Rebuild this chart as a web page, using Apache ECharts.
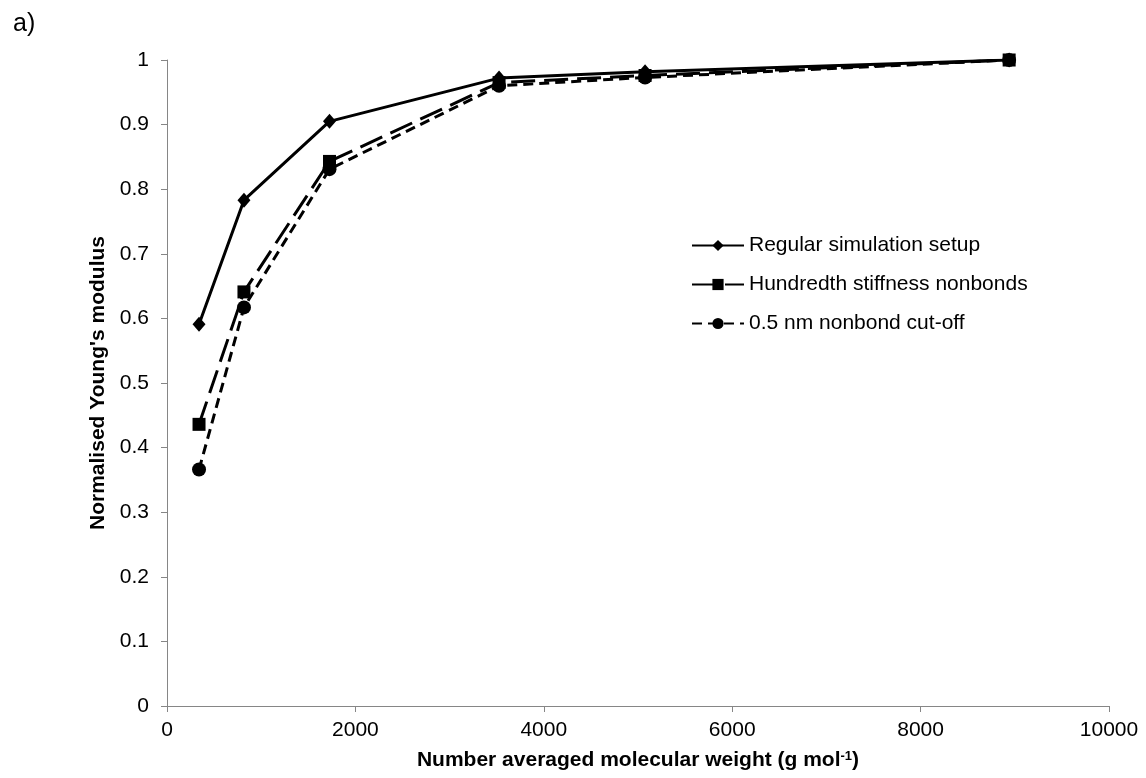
<!DOCTYPE html>
<html>
<head>
<meta charset="utf-8">
<script src="https://cdn.jsdelivr.net/npm/echarts@6/dist/echarts.min.js"></script>
<style>
html,body{margin:0;padding:0;background:#fff;}
#chart{width:1146px;height:778px;}
</style>
</head>
<body>
<div id="chart"></div>
<script>
var molecularWeight = [340, 817, 1725, 3525, 5075, 8940];
var regularSetup = [0.591, 0.783, 0.905, 0.972, 0.982, 1.0];
var hundredthStiffness = [0.436, 0.641, 0.843, 0.965, 0.976, 1.0];
var cutoff05nm = [0.366, 0.617, 0.831, 0.960, 0.973, 1.0];
var seriesNames = ['Regular simulation setup', 'Hundredth stiffness nonbonds', '0.5 nm nonbond cut-off'];

function pairs(xs, ys){ return xs.map(function(x,i){ return [x, ys[i]]; }); }

var chart = echarts.init(document.getElementById('chart'));
var font = 'Liberation Sans, Arial, sans-serif';
chart.setOption({
  backgroundColor: '#fff',
  animation: false,
  title: {
    text: 'a)', left: 8, top: 7,
    textStyle: {fontFamily: font, fontSize: 25, fontWeight: 'normal', color: '#000'}
  },
  grid: {left: 167, right: 37, top: 60, bottom: 72},
  legend: {
    orient: 'vertical', left: 686, top: 230,
    itemWidth: 52, itemHeight: 14, itemGap: 18,
    data: seriesNames,
    textStyle: {fontFamily: font, fontSize: 21, color: '#000'}
  },
  xAxis: {
    type: 'value', min: 0, max: 10000, interval: 2000,
    name: 'Number averaged molecular weight (g mol{sup|-1})',
    nameLocation: 'middle', nameGap: 44,
    nameTextStyle: {fontFamily: font, fontSize: 21, fontWeight: 'bold', color: '#000',
      rich: {sup: {fontFamily: font, fontSize: 13, fontWeight: 'bold', color: '#000', verticalAlign: 'top', padding: [0,0,8,0]}}},
    axisLine: {lineStyle: {color: '#868686', width: 1}},
    axisTick: {show: true, inside: false, length: 6, lineStyle: {color: '#868686'}},
    axisLabel: {fontFamily: font, fontSize: 21, color: '#000', margin: 14,
      formatter: function(v){ return String(v); }},
    splitLine: {show: false}
  },
  yAxis: {
    type: 'value', min: 0, max: 1, interval: 0.1,
    name: "Normalised Young's modulus",
    nameLocation: 'middle', nameGap: 55, nameRotate: 90,
    nameTextStyle: {fontFamily: font, fontSize: 21, fontWeight: 'bold', color: '#000'},
    axisLine: {show: true, lineStyle: {color: '#868686', width: 1}},
    axisTick: {show: true, inside: false, length: 6, lineStyle: {color: '#868686'}},
    axisLabel: {fontFamily: font, fontSize: 21, color: '#000', margin: 18,
      formatter: function(v){ return String(Math.round(v*10)/10); }},
    splitLine: {show: false}
  },
  series: [
    {
      name: seriesNames[0], type: 'line', data: pairs(molecularWeight, regularSetup),
      symbol: 'diamond', symbolSize: [13, 15],
      lineStyle: {color: '#000', width: 3, type: 'solid'},
      itemStyle: {color: '#000'}, z: 3
    },
    {
      name: seriesNames[1], type: 'line', data: pairs(molecularWeight, hundredthStiffness),
      symbol: 'rect', symbolSize: 13,
      lineStyle: {color: '#000', width: 3, type: [24, 9]},
      itemStyle: {color: '#000'}, z: 2
    },
    {
      name: seriesNames[2], type: 'line', data: pairs(molecularWeight, cutoff05nm),
      symbol: 'circle', symbolSize: 14,
      lineStyle: {color: '#000', width: 3, type: [10, 6]},
      itemStyle: {color: '#000'}, z: 1
    }
  ]
});
</script>
</body>
</html>
